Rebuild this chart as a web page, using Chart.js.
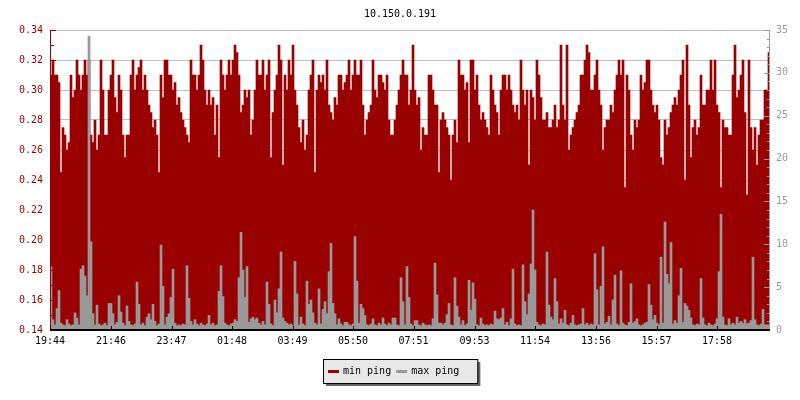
<!DOCTYPE html>
<html>
<head>
<meta charset="utf-8">
<title>10.150.0.191</title>
<script src="https://cdn.jsdelivr.net/npm/chart.js@4.4.1/dist/chart.umd.min.js"></script>
<style>
  html, body { margin: 0; padding: 0; background: #fff; }
</style>
</head>
<body>
<canvas id="pingChart" width="800" height="400"></canvas>
<script>
const chartTitle = "10.150.0.191";
const startTime = "19:44";
const minutesPerSample = 4;
const tickTimes = ["19:44", "21:46", "23:47", "01:48", "03:49", "05:50", "07:51", "09:53", "11:54", "13:56", "15:57", "17:58"];

// min ping (left axis, seconds-ish)
const minPing = [
  .31,.32,.31,.31,.305,.245,.275,.27,.26,.265,.31,.295,.30,.32,.31,.30,.31,.32,.31,.32,
  .27,.265,.28,.26,.27,.32,.30,.27,.27,.30,.31,.32,.295,.285,.31,.30,.27,.255,.27,.27,
  .31,.32,.30,.31,.315,.32,.30,.31,.30,.29,.285,.275,.28,.27,.245,.31,.295,.32,.32,.31,
  .31,.30,.305,.29,.295,.285,.28,.275,.27,.265,.32,.31,.31,.30,.31,.33,.32,.30,.29,.30,
  .29,.295,.27,.29,.255,.32,.31,.30,.31,.32,.31,.32,.33,.325,.31,.285,.29,.30,.295,.30,
  .27,.28,.30,.32,.31,.31,.32,.30,.31,.32,.255,.285,.30,.31,.33,.32,.25,.31,.30,.32,
  .31,.33,.30,.29,.275,.265,.28,.26,.27,.30,.31,.32,.245,.30,.31,.305,.31,.30,.32,.29,
  .285,.28,.295,.29,.31,.31,.30,.305,.31,.32,.30,.31,.32,.31,.31,.32,.29,.27,.28,.285,
  .29,.32,.30,.295,.31,.31,.305,.30,.31,.28,.27,.27,.28,.29,.30,.31,.32,.31,.31,.29,
  .30,.33,.30,.29,.295,.26,.275,.27,.27,.31,.31,.30,.29,.29,.245,.28,.285,.28,.275,.27,
  .24,.27,.28,.265,.32,.31,.31,.30,.305,.265,.32,.32,.30,.31,.29,.28,.285,.28,.275,.27,
  .31,.30,.29,.285,.27,.30,.31,.31,.30,.31,.30,.29,.285,.29,.28,.32,.30,.29,.30,.25,
  .30,.295,.28,.32,.31,.295,.28,.28,.285,.275,.275,.28,.29,.275,.28,.33,.29,.28,.33,.26,
  .27,.275,.28,.285,.29,.31,.31,.32,.33,.325,.30,.30,.31,.32,.30,.29,.26,.275,.28,.28,
  .29,.285,.30,.31,.32,.31,.32,.235,.31,.30,.27,.26,.28,.275,.28,.31,.30,.305,.32,.32,
  .30,.29,.285,.29,.28,.255,.25,.28,.27,.275,.285,.29,.295,.29,.30,.31,.32,.24,.33,.29,
  .255,.275,.28,.27,.275,.31,.29,.29,.30,.30,.32,.30,.32,.29,.285,.235,.28,.275,.275,.27,
  .27,.31,.33,.295,.30,.31,.32,.285,.23,.32,.275,.26,.275,.25,.27,.28,.28,.30,.30,.325
];

// max ping (right axis)
const maxPing = [
  7.4,1.2,0.6,2.5,4.6,0.8,0.6,0.5,1.2,0.7,0.5,0.6,2.0,1.4,0.6,7.1,7.5,6.3,4.0,34.3,
  10.3,1.9,0.6,2.9,0.7,0.5,0.6,0.8,0.5,3.1,3.1,1.9,0.6,0.9,4.0,2.1,0.8,0.5,2.8,1.0,
  0.6,0.5,0.7,5.6,3.0,0.6,0.8,0.5,1.5,1.9,1.2,3.0,1.0,0.5,0.7,9.9,5.1,0.6,1.5,1.9,
  3.8,7.1,0.8,0.5,0.6,0.5,0.7,0.6,7.5,3.7,1.0,0.6,1.2,0.7,0.5,0.8,0.6,0.5,0.7,1.7,
  0.6,0.8,0.5,0.6,4.5,7.5,3.9,0.8,0.6,0.5,0.7,0.8,1.2,1.0,6.1,11.4,7.0,3.8,7.4,0.9,
  1.3,1.5,1.2,1.4,0.8,0.6,1.0,0.6,5.6,3.0,0.7,0.5,3.5,2.0,4.8,9.1,1.4,1.0,0.8,0.6,
  0.7,0.5,8.0,4.2,0.6,1.5,0.7,0.5,5.7,3.0,3.5,2.0,0.8,0.6,4.8,0.7,2.4,3.3,1.9,6.8,
  10.1,3.1,1.9,0.6,1.3,0.7,0.5,0.9,0.9,0.6,0.5,0.7,10.9,5.7,0.8,3.0,2.5,1.7,0.6,0.5,
  0.7,1.3,0.6,0.5,0.8,0.6,1.4,0.7,0.5,0.8,0.6,1.4,1.4,0.6,0.5,6.1,3.3,0.6,7.4,3.8,
  0.7,0.5,1.1,1.1,0.6,0.5,0.8,0.6,0.5,0.6,0.5,1.3,7.8,4.1,0.8,0.8,0.6,0.8,1.8,3.1,
  0.6,0.5,6.1,2.8,1.5,0.6,1.1,0.5,0.7,5.8,2.3,5.5,3.6,0.6,0.5,1.4,0.7,0.5,0.6,0.5,
  0.7,0.6,2.2,1.3,1.2,1.4,2.5,0.6,0.9,0.5,1.3,7.1,0.7,0.5,0.6,0.5,7.6,3.3,1.8,4.2,
  7.7,14.0,7.0,0.9,0.6,0.5,0.7,0.6,9.1,2.9,1.5,1.2,6.0,3.3,0.7,1.3,0.8,2.3,0.6,0.5,
  0.8,1.7,0.6,0.5,0.6,0.7,2.5,0.6,0.8,0.5,0.7,0.6,8.9,4.7,0.6,5.1,9.7,0.7,0.9,1.6,
  0.6,3.5,6.4,0.7,0.5,6.9,0.8,0.6,0.5,0.9,5.4,0.8,1.0,1.3,0.6,0.5,0.6,0.8,0.9,5.3,
  2.9,1.2,1.7,0.8,0.6,8.5,0.8,12.6,6.5,5.4,10.2,0.7,1.1,0.8,4.0,7.2,0.9,3.1,2.8,2.3,
  1.4,0.6,0.5,0.7,0.6,6.0,1.4,0.6,0.5,0.8,0.6,0.5,0.7,1.3,6.8,13.5,1.5,0.6,0.5,1.3,
  0.6,0.8,0.6,1.5,0.8,1.0,0.8,1.2,0.7,0.8,1.1,8.5,1.2,0.6,0.5,0.7,2.4,0.6,0.6,0.6
];

const MONO = '"DejaVu Sans Mono", monospace';
const RED = '#990000';
const GREY = '#999999';

// minutes since the first sample
function minutesFrom(t) {
  let [h, m] = t.split(':').map(Number);
  let [h0, m0] = startTime.split(':').map(Number);
  let d = (h * 60 + m) - (h0 * 60 + m0);
  if (d < 0) d += 1440;
  return d;
}

function toPoints(values) {
  return values.map((v, i) => ({ x: i * minutesPerSample + minutesPerSample / 2, y: v }));
}

// inward tick marks + axis lines, drawn over the bars
const axisTicks = {
  id: 'axisTicks',
  afterDatasetsDraw(chart) {
    const { ctx, chartArea: a, scales } = chart;
    const x = scales.x, y = scales.y, y1 = scales.y1;
    ctx.save();
    ctx.lineWidth = 1;

    // left axis
    ctx.strokeStyle = RED;
    ctx.beginPath();
    ctx.moveTo(a.left + 0.5, a.top);
    ctx.lineTo(a.left + 0.5, a.bottom);
    for (let k = 0; k <= 20; k++) {
      let v = y.min + k * 0.01;
      let py = Math.round(y.getPixelForValue(v)) + 0.5;
      ctx.moveTo(a.left, py);
      ctx.lineTo(a.left + (k % 2 === 0 ? 6 : 4), py);
    }
    ctx.stroke();

    // right axis
    ctx.strokeStyle = GREY;
    ctx.beginPath();
    ctx.moveTo(a.right - 0.5, a.top);
    ctx.lineTo(a.right - 0.5, a.bottom);
    for (let v = y1.min; v <= y1.max; v++) {
      let py = Math.round(y1.getPixelForValue(v)) + 0.5;
      ctx.moveTo(a.right, py);
      ctx.lineTo(a.right - (v % 5 === 0 ? 6 : 3), py);
    }
    ctx.stroke();

    // bottom axis
    ctx.strokeStyle = '#000';
    ctx.lineWidth = 2;
    ctx.beginPath();
    ctx.moveTo(a.left, a.bottom);
    ctx.lineTo(a.right, a.bottom);
    ctx.stroke();
    ctx.lineWidth = 1;
    ctx.beginPath();
    tickTimes.forEach(t => {
      let px = Math.round(x.getPixelForValue(minutesFrom(t))) + 0.5;
      ctx.moveTo(px, a.bottom);
      ctx.lineTo(px, a.bottom - 4);
    });
    ctx.stroke();
    ctx.restore();
  }
};

// boxed legend with a drop shadow
const boxLegend = {
  id: 'boxLegend',
  afterDraw(chart) {
    const ctx = chart.ctx;
    const sets = chart.data.datasets;
    ctx.save();
    ctx.font = '10px ' + MONO;
    const swatch = 11, gap = 4, itemGap = 5, padL = 5, padR = 18, h = 24;
    let total = padL + padR;
    sets.forEach((d, i) => {
      total += swatch + gap + ctx.measureText(d.label).width + (i > 0 ? itemGap : 0);
    });
    const left = Math.round(chart.width / 2 - total / 2);
    const top = Math.round(chart.chartArea.bottom + 29);

    ctx.fillStyle = '#666666';
    ctx.fillRect(left + 3, top + 3, total, h);
    ctx.fillStyle = '#e8e8e8';
    ctx.fillRect(left, top, total, h);
    ctx.strokeStyle = '#000';
    ctx.lineWidth = 1;
    ctx.strokeRect(left + 0.5, top + 0.5, total, h);

    let cx = left + padL;
    const cy = top + h / 2;
    ctx.textBaseline = 'middle';
    sets.forEach((d, i) => {
      if (i > 0) cx += itemGap;
      ctx.fillStyle = d.backgroundColor;
      ctx.fillRect(cx, cy - 1, swatch, 3);
      cx += swatch + gap;
      ctx.fillStyle = '#000';
      ctx.fillText(d.label, cx, cy);
      cx += ctx.measureText(d.label).width;
    });
    ctx.restore();
  }
};

const ctx = document.getElementById('pingChart').getContext('2d');
new Chart(ctx, {
  type: 'bar',
  data: {
    datasets: [
      {
        label: 'min ping',
        data: toPoints(minPing),
        yAxisID: 'y',
        backgroundColor: RED,
        borderWidth: 0,
        order: 1
      },
      {
        label: 'max ping',
        data: toPoints(maxPing),
        yAxisID: 'y1',
        backgroundColor: GREY,
        borderWidth: 0,
        order: 0
      }
    ]
  },
  options: {
    responsive: false,
    animation: false,
    events: [],
    grouped: false,
    barPercentage: 1,
    categoryPercentage: 1,
    layout: { padding: { left: 0, right: 0, top: 0, bottom: 45 } },
    plugins: {
      legend: { display: false },
      tooltip: { enabled: false },
      title: {
        display: true,
        text: chartTitle,
        color: '#000',
        font: { family: MONO, size: 10, weight: 'normal' },
        padding: { top: 8, bottom: 10 }
      }
    },
    scales: {
      x: {
        type: 'linear',
        min: 0,
        max: minPing.length * minutesPerSample,
        offset: false,
        grid: { display: false, drawTicks: false },
        border: { display: false },
        afterBuildTicks: (scale) => {
          scale.ticks = tickTimes.map(t => ({ value: minutesFrom(t) }));
        },
        afterFit: (scale) => { scale.height = 25; },
        ticks: {
          autoSkip: false,
          maxRotation: 0,
          padding: 5,
          color: '#000',
          font: { family: MONO, size: 10 },
          callback: (v, i) => tickTimes[i]
        }
      },
      y: {
        position: 'left',
        min: 0.14,
        max: 0.34,
        grid: { color: '#c0c0c0', drawTicks: false },
        border: { display: false },
        afterFit: (scale) => { scale.width = 50; },
        ticks: {
          stepSize: 0.02,
          padding: 7,
          color: RED,
          font: { family: MONO, size: 10 },
          callback: (v) => v.toFixed(2)
        }
      },
      y1: {
        position: 'right',
        min: 0,
        max: 35,
        grid: { display: false, drawTicks: false },
        border: { display: false },
        afterFit: (scale) => { scale.width = 30; },
        ticks: {
          stepSize: 5,
          padding: 6,
          color: GREY,
          font: { family: MONO, size: 10 }
        }
      }
    }
  },
  plugins: [axisTicks, boxLegend]
});
</script>
</body>
</html>
